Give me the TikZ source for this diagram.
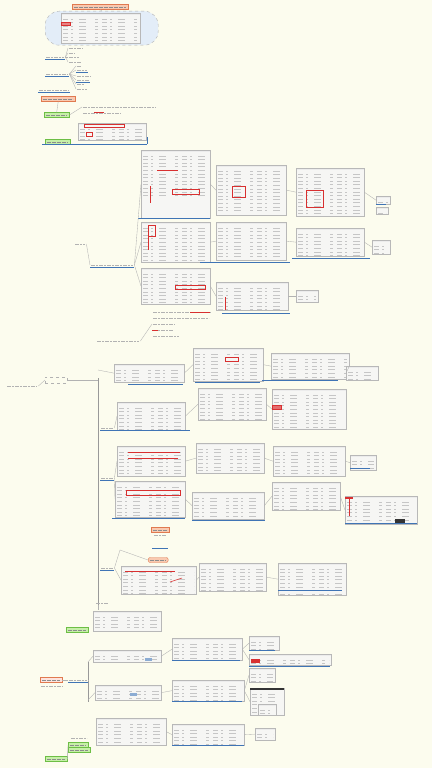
\documentclass[tikz,border=0pt]{standalone}
\usetikzlibrary{calc}
\definecolor{bgc}{HTML}{FCFCEE}
\definecolor{salm}{HTML}{F9C9B0}
\definecolor{salmd}{HTML}{E07A50}
\definecolor{grn}{HTML}{C6EFA8}
\definecolor{grnd}{HTML}{6DBE45}
\definecolor{bl}{HTML}{3F74B5}
\definecolor{pan}{HTML}{F6F6F4}
\definecolor{pand}{HTML}{B8B8B8}
\definecolor{cld}{HTML}{E3EDF8}
\definecolor{rd}{HTML}{D83030}
\tikzset{
 shot/.style={draw=pand, fill=pan, line width=0.3pt, inner sep=0pt,
  path picture={
   \fill[gray!15] (path picture bounding box.north west) rectangle ([yshift=-2pt]path picture bounding box.north east);
   \foreach \k in {1,...,12}{
    \draw[gray!45, line width=0.4pt, dash pattern=on 5pt off 3pt on 2pt off 6pt on 7pt off 9pt on 3pt off 4pt]
     ([xshift=2pt,yshift=-2pt-\k*3.6pt]path picture bounding box.north west) -- ([xshift=-2pt,yshift=-2pt-\k*3.6pt]path picture bounding box.north east);}
  }},
 topic/.style={inner sep=0pt, minimum height=4pt,
  path picture={\draw[gray!60, line width=0.5pt, dash pattern=on 4pt off 1pt on 2pt off 1pt]
   ([xshift=1pt]path picture bounding box.west) -- ([xshift=-1pt]path picture bounding box.east);}},
 uline/.style={draw=bl, line width=0.6pt},
 conn/.style={draw=gray!60, line width=0.35pt},
 gbox/.style={draw=grnd, fill=grn, line width=0.4pt, inner sep=0pt, minimum height=5pt,
  path picture={\draw[black!45, line width=0.5pt, dash pattern=on 4pt off 1pt]
   ([xshift=2pt]path picture bounding box.west) -- ([xshift=-2pt]path picture bounding box.east);}},
 sbox/.style={draw=salmd, fill=salm, line width=0.4pt, inner sep=0pt, minimum height=5pt,
  path picture={\draw[black!45, line width=0.5pt, dash pattern=on 4pt off 1pt]
   ([xshift=2pt]path picture bounding box.west) -- ([xshift=-2pt]path picture bounding box.east);}},
 redmark/.style={draw=rd, line width=0.5pt},
}
\newcommand\shot[5]{\node[shot, minimum width=#4pt, minimum height=#5pt, anchor=north west] (#1) at (#2,#3) {};}
\newcommand\tnode[4]{\node[topic, minimum width=#4pt, anchor=west] (#1) at (#2,#3) {};}
\begin{document}
\begin{tikzpicture}[x=1pt,y=-1pt]
\useasboundingbox (0,0) rectangle (432,768);
\fill[bgc] (0,0) rectangle (432,768);
% ---------- top cloud ----------
\node[sbox, minimum width=56pt, anchor=west] (title) at (72,7) {};
\node[draw=gray!60, dashed, fill=cld, rounded corners=14pt, minimum width=113pt, minimum height=34pt, anchor=north west, line width=0.4pt] (cloud) at (45,11) {};
\shot{ctab}{61}{13}{79}{30}
\draw[redmark, fill=rd!60] (61,22) rectangle (70,25);
\draw[conn] (title.south) -- (cloud.north);
% ---------- upper-left branches ----------
\tnode{a1}{45}{57}{20}
\draw[uline] (a1.south west) -- (a1.south east);
\foreach \yy/\ww [count=\i] in {48/16,53/8,57/12,62/14}{
 \tnode{a1c\i}{68}{\yy}{\ww}
 \draw[conn] (a1.east) -- (a1c\i.west);}
\tnode{a2}{45}{74}{24}
\draw[uline] (a2.south west) -- (a2.south east);
\foreach \yy/\ww [count=\i] in {66/6,70/12,76/16,80/14,84/10,89/12}{
 \tnode{a2c\i}{76}{\yy}{\ww}
 \draw[conn] (a2.east) -- (a2c\i.west);}
\draw[uline] (76,72) -- (88,72);
\draw[uline] (76,82) -- (90,82);
\tnode{a3}{38}{90}{32}
\draw[uline] (a3.south west) -- (a3.south east);
\node[sbox, minimum width=34pt, anchor=west] (a4) at (41,99) {};
\node[gbox, minimum width=25pt, anchor=west] (a5) at (44,115) {};
\draw[conn] (a4.south) -- (a5.north);
\tnode{a5t}{82}{107}{75}
\tnode{a5r}{82}{113}{40}
\draw[redmark] (94,112) -- (104,112);
\draw[conn] (a5.east) -- (a5t.west);
\shot{a5p}{78}{123}{68}{17}
\draw[redmark] (84,124) rectangle (124,127);
\draw[redmark] (86,132) rectangle (92,136);
\node[gbox, minimum width=25pt, anchor=west] (a6) at (45,142) {};
\draw[uline] (42,144) -- (147,144);
\draw[uline] (147,144) -- (147,137);
% ---------- middle section ----------
\tnode{m1}{74}{244}{12}
\tnode{m2}{90}{265}{44}
\draw[uline] (m2.south west) -- (m2.south east);
\draw[conn] (m1.east) -- (m2.west);
\shot{p11}{141}{150}{69}{68}
\shot{p12}{141}{222}{69}{40}
\shot{p13}{141}{268}{69}{36}
\draw[redmark] (157,170) -- (178,170);
\draw[redmark] (150,186) -- (150,203);
\draw[redmark] (172,189) rectangle (199,194);
\draw[redmark] (148,225) rectangle (155,236);
\draw[redmark] (148,236) -- (148,250);
\draw[redmark] (175,285) rectangle (205,289);
\draw[uline] (138,218) -- (210,218);
\draw[uline] (200,262) -- (290,262);
\foreach \p in {p11,p12,p13}{\draw[conn] (m2.east) -- (\p.west);}
\shot{p21}{216}{165}{70}{50}
\shot{p22}{216}{222}{70}{38}
\shot{p23}{216}{282}{72}{28}
\draw[redmark] (232,186) rectangle (245,197);
\draw[redmark] (225,297) -- (225,310);
\draw[uline] (222,313) -- (290,313);
\draw[conn] (p11.east) -- (p21.west);
\draw[conn] (p12.east) -- (p22.west);
\draw[conn] (p13.east) -- (p23.west);
\shot{p31}{296}{168}{68}{48}
\shot{p32}{296}{228}{68}{28}
\draw[redmark] (306,190) rectangle (323,207);
\draw[uline] (292,258) -- (370,258);
\draw[conn] (p21.east) -- (p31.west);
\draw[conn] (p22.east) -- (p32.west);
\shot{p41}{376}{196}{14}{8}
\shot{p42}{376}{207}{12}{7}
\shot{p43}{372}{240}{18}{14}
\shot{p44}{296}{290}{22}{12}
\draw[uline] (376,204) -- (386,204);
\draw[conn] (p31.east) -- (p41.west);
\draw[conn] (p32.east) -- (p43.west);
\draw[conn] (p23.east) -- (p44.west);
\foreach \yy/\ww [count=\i] in {312/60,318/58,324/24,330/22,336/28}{
 \tnode{mt\i}{152}{\yy}{\ww}}
\draw[redmark] (190,312) -- (210,312);
\draw[redmark] (152,330) -- (158,330);
\tnode{m3}{96}{341}{44}
\draw[conn] (m3.east) -- (mt3.west);
% ---------- big lower section ----------
\tnode{root}{6}{386}{32}
\node[draw=gray!60, dashed, inner sep=0pt, minimum width=22pt, minimum height=6pt, anchor=west] (l1) at (45,380) {};
\draw[conn] (root.east) -- (l1.west);
\draw[conn, gray!80, line width=0.5pt] (98,378) -- (98,610);
\draw[conn] (l1.east) -- (98,380);
\tnode{b1}{100}{428}{14}
\tnode{b2}{100}{478}{14}
\tnode{b3}{100}{568}{14}
\draw[uline] (b1.south west) -- (b1.south east);
\draw[uline] (b2.south west) -- (b2.south east);
\draw[uline] (b3.south west) -- (b3.south east);
\shot{q11}{114}{364}{70}{18}
\shot{q12}{117}{402}{68}{28}
\shot{q13}{117}{446}{68}{30}
\shot{q14}{115}{481}{70}{36}
\draw[uline] (128,384) -- (183,384);
\draw[uline] (114,430) -- (190,430);
\draw[uline] (112,518) -- (185,518);
\draw[redmark] (128,452) -- (180,452);
\draw[redmark] (128,458) -- (178,458);
\draw[redmark] (126,490) rectangle (180,495);
\draw[conn] (98,370) -- (q11.west);
\draw[conn] (b1.east) -- (q12.west);
\draw[conn] (b2.east) -- (q13.west);
\draw[conn] (b2.east) -- (q14.west);
\shot{q21}{193}{348}{70}{33}
\shot{q22}{198}{388}{68}{32}
\shot{q23}{196}{443}{68}{30}
\shot{q24}{192}{492}{72}{27}
\draw[redmark] (225,357) rectangle (238,361);
\draw[uline] (195,382) -- (260,382);
\draw[uline] (192,520) -- (265,520);
\draw[conn] (q11.east) -- (q21.west);
\draw[conn] (q12.east) -- (q22.west);
\draw[conn] (q13.east) -- (q23.west);
\draw[conn] (q14.east) -- (q24.west);
\shot{q31}{271}{353}{78}{26}
\shot{q32}{272}{389}{74}{40}
\shot{q33}{273}{446}{72}{30}
\shot{q34}{272}{482}{68}{28}
\draw[redmark, fill=rd!70] (272,405) rectangle (281,409);
\draw[uline] (262,380) -- (338,380);
\draw[conn] (q21.east) -- (q31.west);
\draw[conn] (q22.east) -- (q32.west);
\draw[conn] (q23.east) -- (q33.west);
\draw[conn] (q24.east) -- (q34.west);
\shot{q41}{346}{366}{32}{14}
\shot{q42}{350}{455}{26}{15}
\shot{q43}{345}{496}{72}{28}
\draw[uline] (350,468) -- (370,468);
\draw[redmark] (349,497) -- (349,516);
\fill[rd] (345,497) rectangle (353,499);
\fill[black!80] (395,519) rectangle (405,523);
\draw[uline] (345,523) -- (417,523);
\draw[conn] (q31.east) -- (q41.west);
\draw[conn] (q33.east) -- (q42.west);
\draw[conn] (q34.east) -- (q43.west);
% lower group b3
\node[sbox, minimum width=18pt, anchor=west] (o1) at (151,530) {};
\node[sbox, minimum width=20pt, rounded corners=2pt, anchor=west] (o2) at (148,560) {};
\tnode{o1b}{153}{535}{14}
\draw[uline] (152,548) -- (168,548);
\draw[conn] (b3.east) -- (120,550) -- (o2.west);
\shot{r1}{121}{566}{75}{28}
\shot{r2}{199}{563}{67}{28}
\shot{r3}{278}{563}{68}{32}
\draw[redmark] (125,571) -- (175,571);
\draw[redmark] (170,582) -- (182,578);
\draw[uline] (278,590) -- (342,590);
\draw[conn] (b3.east) -- (r1.west);
\draw[conn] (r1.east) -- (r2.west);
\draw[conn] (r2.east) -- (r3.west);
\tnode{b4}{95}{603}{14}
\draw[conn] (98,605) -- (98,610);
\shot{r4}{93}{611}{68}{20}
\node[gbox, minimum width=22pt, anchor=west] (g1) at (66,630) {};
% ---------- bottom section ----------
\node[sbox, fill=salm!80!red!30, minimum width=22pt, anchor=west] (s1) at (40,680) {};
\tnode{s1b}{40}{686}{24}
\tnode{s2}{68}{680}{20}
\draw[uline] (s2.south west) -- (s2.south east);
\draw[conn] (s1.east) -- (s2.west);
\draw[conn, gray!80] (88,662) -- (88,702);
\draw[conn] (s2.east) -- (88,680);
\shot{t1}{93}{650}{68}{12}
\shot{t2}{95}{685}{66}{15}
\draw[conn] (88,662) -- (t1.west);
\draw[conn] (88,700) -- (t2.west);
\fill[bl!60] (145,658) rectangle (152,661);
\fill[bl!60] (130,693) rectangle (137,696);
\shot{t3}{172}{638}{70}{22}
\shot{t4}{172}{680}{72}{21}
\draw[uline] (172,660) -- (240,660);
\draw[uline] (172,701) -- (242,701);
\draw[conn] (t1.east) -- (t3.west);
\draw[conn] (t2.east) -- (t4.west);
\shot{u1}{249}{636}{30}{14}
\shot{u2}{249}{654}{82}{11}
\shot{u3}{249}{668}{26}{14}
\shot{u4}{250}{688}{34}{27}
\shot{u5}{258}{704}{18}{11}
\fill[rd] (251,659) rectangle (260,663);
\fill[black!80] (250,688) rectangle (284,690);
\draw[uline] (249,650) -- (275,650);
\draw[uline] (249,666) -- (330,666);
\draw[conn] (t3.east) -- (u1.west);
\draw[conn] (t3.east) -- (u2.west);
\draw[conn] (t4.east) -- (u3.west);
\draw[conn] (t4.east) -- (u4.west);
\shot{v1}{96}{718}{70}{27}
\shot{v2}{172}{724}{72}{21}
\shot{v3}{255}{728}{20}{12}
\draw[uline] (172,745) -- (244,745);
\draw[conn] (v1.east) -- (v2.west);
\draw[conn] (v2.east) -- (v3.west);
\tnode{w0}{70}{738}{18}
\node[gbox, minimum width=20pt, anchor=west] (w1) at (68,745) {};
\node[gbox, minimum width=22pt, anchor=west] (w2) at (68,750) {};
\node[gbox, minimum width=22pt, anchor=west] (w3) at (45,759) {};
\draw[conn] (w3.east) -- (w1.west);
\draw[conn] (w3.east) -- (w2.west);
\end{tikzpicture}
\end{document}
